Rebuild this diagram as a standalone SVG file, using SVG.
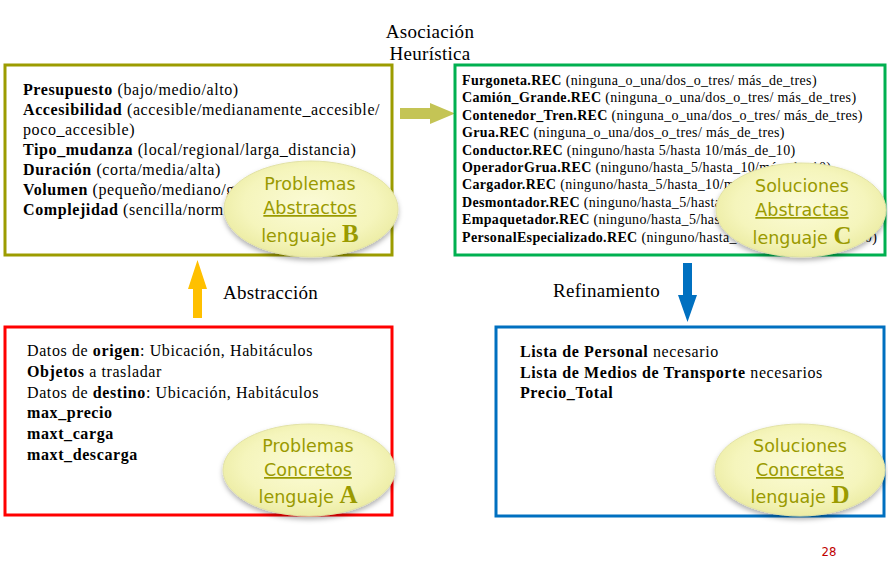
<svg xmlns="http://www.w3.org/2000/svg" width="888" height="569" viewBox="0 0 888 569">
<defs>
<radialGradient id="eg" cx="50%" cy="45%" r="55%">
<stop offset="0" stop-color="#FBFBD6"/>
<stop offset="0.7" stop-color="#F5F5BC"/>
<stop offset="1" stop-color="#ECECA4"/>
</radialGradient>
<filter id="sh" x="-20%" y="-20%" width="140%" height="150%">
<feDropShadow dx="0" dy="3" stdDeviation="2.5" flood-color="#000" flood-opacity="0.3"/>
</filter>
</defs>
<style>
.s{font-family:"Liberation Serif","Times New Roman",serif;fill:#000}
.t15{font-size:16px;letter-spacing:0.6px}
.t13{font-size:14px;letter-spacing:0.35px}
.b{font-weight:bold}
.lbl{font-family:"Liberation Serif","Times New Roman",serif;font-size:19px;letter-spacing:0.3px;fill:#000}
.ell{fill:url(#eg);stroke:#E2E2A6;stroke-width:1;filter:url(#sh)}
.et{font-family:"DejaVu Sans","Verdana",sans-serif;font-size:17.5px;fill:#9A9A00;text-anchor:middle}
.L{font-family:"Liberation Serif","Times New Roman",serif;font-weight:bold;font-size:25px}
</style>
<rect width="888" height="569" fill="#fff"/>

<g id="labels">
<text class="lbl" x="430" y="38" text-anchor="middle">Asociación</text>
<text class="lbl" x="430" y="60" text-anchor="middle">Heurística</text>
<text class="lbl" x="223" y="299">Abstracción</text>
<text class="lbl" x="553" y="297">Refinamiento</text>
<text x="829" y="556" font-family="DejaVu Sans Condensed,DejaVu Sans,sans-serif" font-size="13" fill="#C00000" text-anchor="middle">28</text>
</g>

<g id="connectors">
<polygon points="193,318 202,318 202,289 207,289 197.5,260 188,289 193,289" fill="#FFC000"/>
<polygon points="683,263 692,263 692,295 697,295 687.5,322 678,295 683,295" fill="#0070C0"/>
<polygon points="400,108 430,108 430,103 455,113.5 430,124 430,119 400,119" fill="#C4C455"/>
</g>

<g id="nodeB">
<rect x="5" y="65" width="387" height="190" fill="#fff" stroke="#9C9C00" stroke-width="3"/>
<text class="s t15" x="23" y="95"><tspan class="b">Presupuesto</tspan> (bajo/medio/alto)</text>
<text class="s t15" x="23" y="115"><tspan class="b">Accesibilidad</tspan> (accesible/medianamente_accesible/</text>
<text class="s t15" x="23" y="135">poco_accesible)</text>
<text class="s t15" x="23" y="155"><tspan class="b">Tipo_mudanza</tspan> (local/regional/larga_distancia)</text>
<text class="s t15" x="23" y="175"><tspan class="b">Duración</tspan>  (corta/media/alta)</text>
<text class="s t15" x="23" y="195"><tspan class="b">Volumen</tspan>  (pequeño/mediano/grande)</text>
<text class="s t15" x="23" y="215"><tspan class="b">Complejidad</tspan> (sencilla/normal/compleja)</text>
<ellipse class="ell" cx="311" cy="209" rx="87" ry="48"/>
<text class="et" x="310" y="190">Problemas</text>
<text class="et" x="310" y="214" text-decoration="underline">Abstractos</text>
<text class="et" x="310" y="242">lenguaje <tspan class="L">B</tspan></text>
</g>

<g id="nodeC">
<rect x="455" y="65" width="430" height="190" fill="#fff" stroke="#00B050" stroke-width="3"/>
<text class="s t13" x="462" y="85"><tspan class="b">Furgoneta.REC</tspan> (ninguna_o_una/dos_o_tres/ más_de_tres)</text>
<text class="s t13" x="462" y="102.4"><tspan class="b">Camión_Grande.REC</tspan> (ninguna_o_una/dos_o_tres/ más_de_tres)</text>
<text class="s t13" x="462" y="119.8"><tspan class="b">Contenedor_Tren.REC</tspan> (ninguna_o_una/dos_o_tres/ más_de_tres)</text>
<text class="s t13" x="462" y="137.2"><tspan class="b">Grua.REC</tspan> (ninguna_o_una/dos_o_tres/ más_de_tres)</text>
<text class="s t13" x="462" y="154.6"><tspan class="b">Conductor.REC</tspan> (ninguno/hasta 5/hasta 10/más_de_10)</text>
<text class="s t13" x="462" y="172"><tspan class="b">OperadorGrua.REC</tspan> (ninguno/hasta_5/hasta_10/más_de_10)</text>
<text class="s t13" x="462" y="189.4"><tspan class="b">Cargador.REC</tspan> (ninguno/hasta_5/hasta_10/más_de_10)</text>
<text class="s t13" x="462" y="206.8"><tspan class="b">Desmontador.REC</tspan> (ninguno/hasta_5/hasta_10/más_de_10)</text>
<text class="s t13" x="462" y="224.2"><tspan class="b">Empaquetador.REC</tspan> (ninguno/hasta_5/hasta_10/más_de_10)</text>
<text class="s t13" x="462" y="241.6"><tspan class="b">PersonalEspecializado.REC</tspan> (ninguno/hasta_5/hasta_10/más_de_10)</text>
<ellipse class="ell" cx="801" cy="210" rx="85" ry="47"/>
<text class="et" x="802" y="192">Soluciones</text>
<text class="et" x="802" y="216" text-decoration="underline">Abstractas</text>
<text class="et" x="802" y="244">lenguaje <tspan class="L">C</tspan></text>
</g>

<g id="nodeA">
<rect x="5" y="327" width="387" height="188" fill="#fff" stroke="#FF0000" stroke-width="3"/>
<text class="s t15" x="27" y="356">Datos de <tspan class="b">origen</tspan>: Ubicación, Habitáculos</text>
<text class="s t15" x="27" y="377"><tspan class="b">Objetos</tspan> a trasladar</text>
<text class="s t15" x="27" y="398">Datos de <tspan class="b">destino</tspan>: Ubicación, Habitáculos</text>
<text class="s t15 b" x="27" y="418">max_precio</text>
<text class="s t15 b" x="27" y="439">maxt_carga</text>
<text class="s t15 b" x="27" y="460">maxt_descarga</text>
<ellipse class="ell" cx="309" cy="470" rx="86" ry="46"/>
<text class="et" x="308" y="452">Problemas</text>
<text class="et" x="308" y="476" text-decoration="underline">Concretos</text>
<text class="et" x="308" y="503">lenguaje <tspan class="L">A</tspan></text>
</g>

<g id="nodeD">
<rect x="496" y="327" width="388" height="189" fill="#fff" stroke="#0070C0" stroke-width="3"/>
<text class="s t15" x="520" y="357"><tspan class="b">Lista de Personal</tspan> necesario</text>
<text class="s t15" x="520" y="378"><tspan class="b">Lista de Medios de Transporte</tspan> necesarios</text>
<text class="s t15 b" x="520" y="398">Precio_Total</text>
<ellipse class="ell" cx="800" cy="470" rx="85" ry="46"/>
<text class="et" x="800" y="452">Soluciones</text>
<text class="et" x="800" y="476" text-decoration="underline">Concretas</text>
<text class="et" x="800" y="503">lenguaje <tspan class="L">D</tspan></text>
</g>
</svg>
